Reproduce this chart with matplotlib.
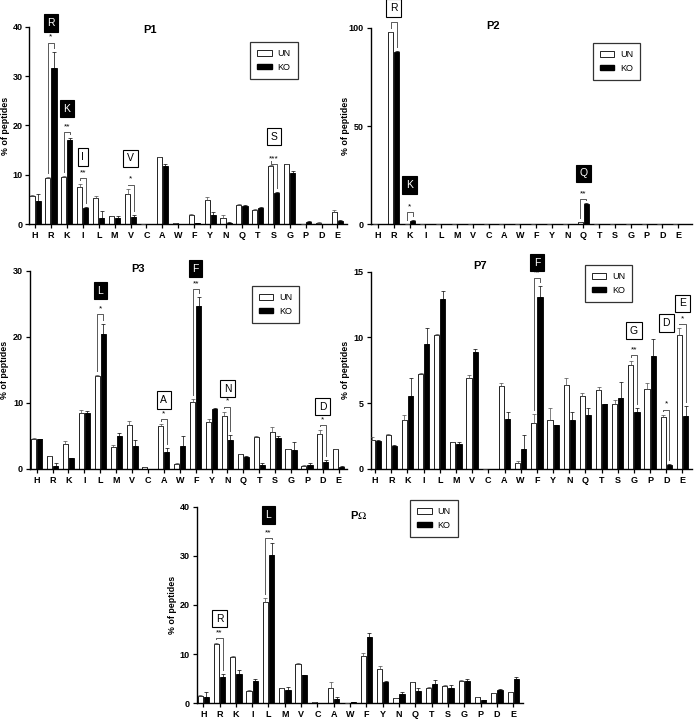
import matplotlib
matplotlib.use("Agg")
import matplotlib.pyplot as plt
from matplotlib.patches import Patch
import numpy as np

plt.rcParams['font.family'] = ['Liberation Sans', 'DejaVu Sans']
plt.rcParams['mathtext.fontset'] = 'stix'

aa = ["H", "R", "K", "I", "L", "M", "V", "C", "A", "W",
      "F", "Y", "N", "Q", "T", "S", "G", "P", "D", "E"]

# P1
p1_un = [5.7, 9.4, 9.6, 7.6, 5.2, 1.6, 6.1, 0, 13.6, 0.2, 1.9, 4.9, 1.3, 3.9, 2.9, 11.8, 12.1, 0, 0.3, 2.4]
p1_un_err = [0.2, 0.1, 0.1, 0.5, 0.5, 0.1, 1.0, 0, 0.1, 0.1, 0.2, 0.6, 0.5, 0.1, 0.1, 0.2, 0.1, 0, 0.1, 0.4]
p1_ko = [4.7, 31.6, 17.0, 3.3, 1.3, 1.2, 1.4, 0, 11.7, 0, 0.2, 1.8, 0.3, 3.7, 3.3, 6.3, 10.4, 0.5, 0, 0.7]
p1_ko_err = [1.3, 3.3, 0.5, 0.1, 1.3, 0.4, 0.4, 0, 0.4, 0, 0.1, 0.6, 0.1, 0.1, 0.1, 0.2, 0.3, 0.2, 0, 0.1]
p1_sig = [("R", 36.8, "*"), ("K", 18.6, "**"), ("I", 9.3, "**"), ("V", 8.0, "*"), ("S", 12.2, "***")]
p1_boxes = [("R", 40.8, "black"), ("K", 23.4, "black"), ("I", 13.6, "white"), ("V", 13.3, "white"), ("S", 17.7, "white")]

# P2
p2_un = [0, 97.8, 0.4, 0, 0, 0, 0, 0, 0, 0, 0, 0, 0, 1.2, 0, 0, 0, 0, 0, 0]
p2_un_err = [0] * 20
p2_ko = [0, 87.6, 1.8, 0, 0, 0, 0, 0, 0, 0, 0, 0, 0, 10.2, 0, 0, 0, 0, 0, 0]
p2_ko_err = [0, 0.5, 0.3, 0, 0, 0, 0, 0, 0, 0, 0, 0, 0, 0.4, 0, 0, 0, 0, 0, 0]
p2_sig = [("R", 103, "**"), ("K", 6.1, "*"), ("Q", 12.9, "**")]
p2_boxes = [("R", 110, "white"), ("K", 20, "black"), ("Q", 26, "black")]

# P3
p3_un = [4.5, 1.9, 3.8, 8.5, 14.1, 3.3, 6.6, 0.2, 6.4, 0.7, 10.1, 7.1, 8.0, 2.2, 4.8, 5.6, 3.0, 0.4, 5.3, 3.0]
p3_un_err = [0.1, 0.1, 0.4, 0.4, 0.1, 0.3, 0.6, 0.05, 0.3, 0.1, 0.5, 0.4, 0.6, 0.1, 0.1, 0.7, 0.05, 0.2, 0.5, 0.05]
p3_ko = [4.5, 0.4, 1.6, 8.5, 20.4, 4.9, 3.5, 0, 2.5, 3.5, 24.6, 9.1, 4.3, 1.8, 0.5, 4.7, 2.9, 0.6, 1.0, 0.2]
p3_ko_err = [0.05, 0.4, 0.05, 0.2, 1.5, 0.5, 0.9, 0, 0.7, 1.5, 1.4, 0.05, 0.8, 0.1, 0.3, 0.2, 1.1, 0.3, 0.3, 0.2]
p3_sig = [("L", 23.4, "*"), ("F", 27.2, "**"), ("A", 7.5, "*"), ("N", 9.4, "*"), ("D", 6.6, "*")]
p3_boxes = [("L", 27.0, "black"), ("F", 30.3, "black"), ("A", 10.4, "white"), ("N", 12.1, "white"), ("D", 9.4, "white")]

# P7
p7_un = [2.2, 2.6, 3.7, 7.2, 10.2, 2.0, 6.9, 0, 6.3, 0.4, 3.5, 3.7, 6.4, 5.5, 6.0, 4.9, 7.9, 6.1, 3.9, 10.2]
p7_un_err = [0.2, 0.05, 0.4, 0.1, 0.05, 0.05, 0.2, 0, 0.2, 0.2, 0.7, 0.9, 0.5, 0.3, 0.2, 0.3, 0.3, 0.4, 0.2, 0.5]
p7_ko = [2.1, 1.7, 5.5, 9.5, 12.9, 1.9, 8.9, 0, 3.8, 1.5, 13.1, 3.3, 3.7, 4.1, 4.9, 5.4, 4.3, 8.6, 0.3, 4.0]
p7_ko_err = [0.1, 0.1, 1.4, 1.2, 0.6, 0.1, 0.2, 0, 0.5, 1.1, 0.8, 0.05, 0.6, 0.5, 0.05, 1.2, 0.3, 1.3, 0.05, 0.8]
p7_sig = [("F", 14.5, "**"), ("G", 8.65, "**"), ("D", 4.5, "*"), ("E", 11.0, "*")]
p7_boxes = [("F", 15.7, "black"), ("G", 10.5, "white"), ("D", 11.1, "white"), ("E", 12.6, "white")]

# P-Omega
po_un = [1.5, 12.1, 9.5, 2.6, 20.6, 3.1, 7.9, 0.2, 3.2, 0, 9.6, 6.9, 1.0, 4.3, 3.2, 3.6, 4.5, 1.2, 2.0, 2.2]
po_un_err = [0.1, 0.1, 0.1, 0.1, 0.8, 0.1, 0.3, 0.05, 1.1, 0, 0.7, 0.7, 0.1, 0.1, 0.2, 0.1, 0.2, 0.1, 0.05, 0.2]
po_ko = [1.3, 5.3, 5.9, 4.5, 30.2, 2.7, 5.7, 0, 0.9, 0.3, 13.4, 4.3, 1.9, 2.5, 3.9, 3.1, 4.5, 0.7, 2.7, 4.9]
po_ko_err = [1.0, 0.6, 0.9, 0.5, 2.4, 0.7, 0.1, 0, 0.4, 0.05, 0.9, 0.3, 0.5, 0.6, 0.8, 0.7, 0.5, 0.05, 0.2, 0.5]
po_sig = [("L", 33.6, "**"), ("R", 13.2, "**")]
po_boxes = [("L", 38.3, "black"), ("R", 17.2, "white")]

W, H = 696, 719
fig = plt.figure(figsize=(W / 100, H / 100), dpi=100)


def px_axes(left, top, right, bottom):
    return fig.add_axes([left / W, 1 - bottom / H, (right - left) / W, (bottom - top) / H])


def panel(rect, xlim, ymax, yticks, un, un_err, ko, ko_err, sig, boxes,
          title, title_xy, leg_xy, ylab_x):
    ax = px_axes(*rect)
    x = np.arange(len(aa))
    w = 0.32
    off = 0.19
    ax.bar(x - off, un, w, color="white", edgecolor="black", linewidth=0.6, zorder=2)
    ax.bar(x + off, ko, w, color="black", edgecolor="black", linewidth=0.6, zorder=2)
    ax.errorbar(x - off, un, yerr=[np.zeros(len(un)), un_err], fmt="none",
                ecolor="0.3", elinewidth=0.5, capsize=1.5, capthick=0.5, zorder=3)
    ax.errorbar(x + off, ko, yerr=[np.zeros(len(ko)), ko_err], fmt="none",
                ecolor="black", elinewidth=0.5, capsize=1.5, capthick=0.5, zorder=3)

    gap = 0.02 * ymax
    for name, h, stars in sig:
        i = aa.index(name)
        y1 = un[i] + un_err[i] + gap
        y2 = ko[i] + ko_err[i] + gap
        ax.plot([i - off, i - off, i + off, i + off], [y1, h, h, y2],
                color="0.35", lw=0.7, clip_on=False, zorder=4)
        ax.text(i, h + 0.01 * ymax, stars, ha="center", va="bottom",
                fontsize=6, clip_on=False)

    for name, y, style in boxes:
        i = aa.index(name)
        if style == "black":
            ax.text(i, y, name, ha="center", va="center", fontsize=7.5, color="white",
                    bbox=dict(boxstyle="square,pad=0.35", fc="black", ec="black", lw=0.8),
                    clip_on=False)
        else:
            ax.text(i, y, name, ha="center", va="center", fontsize=7.5, color="black",
                    bbox=dict(boxstyle="square,pad=0.35", fc="white", ec="black", lw=0.8),
                    clip_on=False)

    ax.set_xlim(*xlim)
    ax.set_ylim(0, ymax)
    ax.set_yticks(yticks)
    ax.set_xticks(x)
    ax.set_xticklabels(aa)
    for lab in ax.get_xticklabels() + ax.get_yticklabels():
        lab.set_fontweight("bold")
        lab.set_fontsize(6.5)
    ax.tick_params(direction="out", length=3, width=0.9, pad=2)
    ax.spines["top"].set_visible(False)
    ax.spines["right"].set_visible(False)
    ax.spines["left"].set_linewidth(1.0)
    ax.spines["bottom"].set_linewidth(1.0)
    ax.set_ylabel("% of peptides", fontsize=6.4, fontweight="bold")
    ax.yaxis.set_label_coords(ylab_x, 0.5)

    ax.text(title_xy[0], title_xy[1], title, transform=ax.transAxes, ha="center",
            va="center", fontsize=8, fontweight="bold")

    handles = [Patch(facecolor="white", edgecolor="black", linewidth=0.6, label="UN"),
               Patch(facecolor="black", edgecolor="black", label="KO")]
    leg = ax.legend(handles=handles, loc="upper left", bbox_to_anchor=leg_xy,
                    fontsize=6.5, frameon=True, fancybox=False, handlelength=1.6,
                    handleheight=0.6, handletextpad=0.6, borderpad=0.8,
                    labelspacing=0.5, borderaxespad=0)
    leg.get_frame().set_edgecolor("black")
    leg.get_frame().set_linewidth(0.9)
    return ax


panel((29.3, 27, 347, 224), (-0.36, 19.6), 40, [0, 10, 20, 30, 40],
      p1_un, p1_un_err, p1_ko, p1_ko_err, p1_sig, p1_boxes,
      "P1", (0.38, 0.985), (0.695, 0.924), -0.062)

panel((370.7, 27.7, 691.7, 224.3), (-0.46, 19.85), 100, [0, 50, 100],
      p2_un, p2_un_err, p2_ko, p2_ko_err, p2_sig, p2_boxes,
      "P2", (0.38, 1.009), (0.692, 0.922), -0.064)

panel((30, 270.7, 346.7, 468.7), (-0.42, 19.5), 30, [0, 10, 20, 30],
      p3_un, p3_un_err, p3_ko, p3_ko_err, p3_sig, p3_boxes,
      "P3", (0.34, 1.007), (0.70, 0.923), -0.066)

panel((370.7, 271.7, 691.7, 468.7), (-0.27, 19.57), 15, [0, 5, 10, 15],
      p7_un, p7_un_err, p7_ko, p7_ko_err, p7_sig, p7_boxes,
      "P7", (0.34, 1.03), (0.667, 1.034), -0.064)

panel((196.7, 506.7, 523, 703.3), (-0.4, 19.6), 40, [0, 10, 20, 30, 40],
      po_un, po_un_err, po_ko, po_ko_err, po_sig, po_boxes,
      r"P$\Omega$", (0.495, 0.958), (0.654, 1.034), -0.06)

fig.savefig("out.png", dpi=100)
